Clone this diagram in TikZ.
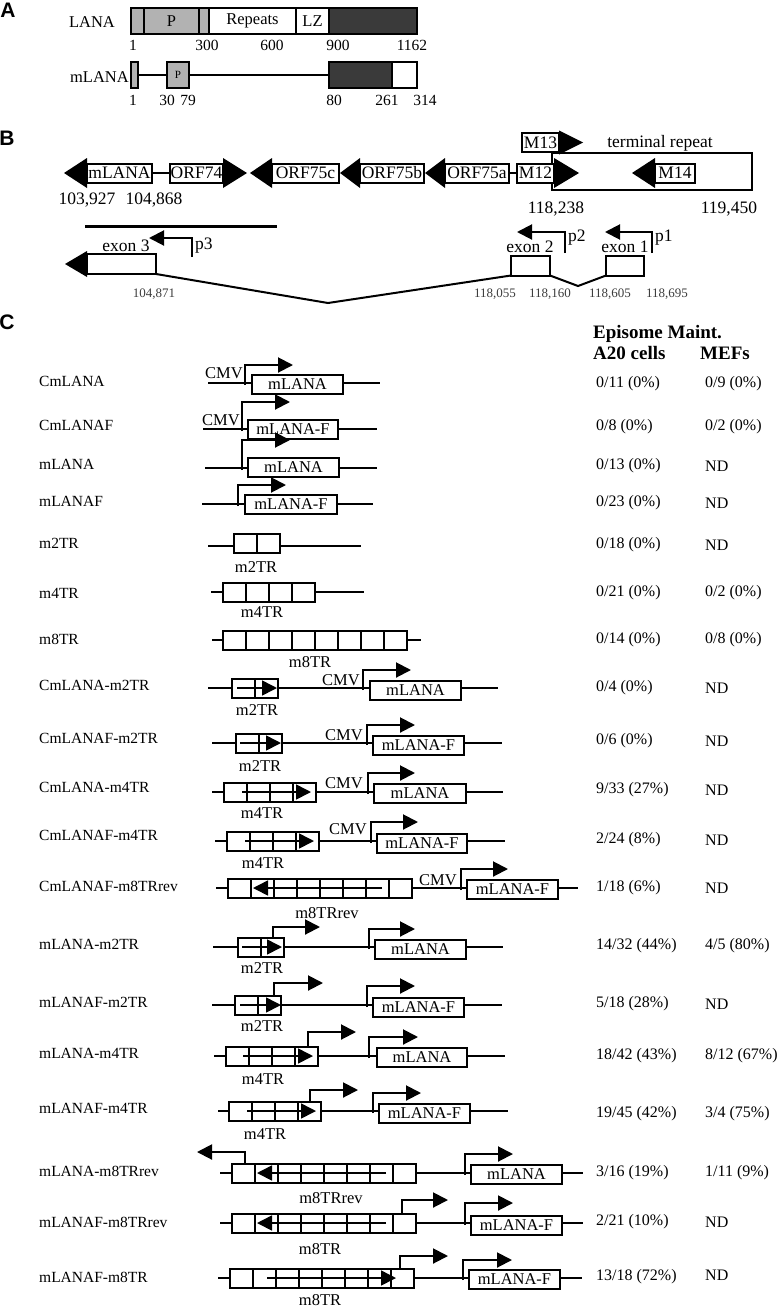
\documentclass[tikz,border=0pt]{standalone}
\usepackage{fontspec}
\setmainfont{Liberation Serif}
\newfontfamily\panelfont{Liberation Sans}
\usetikzlibrary{arrows.meta,calc}

\definecolor{lanagray}{RGB}{178,178,178}
\definecolor{lanadark}{RGB}{58,58,58}
\definecolor{smallgray}{RGB}{60,60,60}

\newcommand*{\fs}[1]{\fontsize{#1}{#1}\selectfont}
% filled gene heads (node, length, half height)
\newcommand*{\headR}[3]{\fill ($(#1.east)+(0,-#3)$) -- ($(#1.east)+(#2,0)$) -- ($(#1.east)+(0,#3)$) -- cycle;}
\newcommand*{\headL}[3]{\fill ($(#1.west)+(0,-#3)$) -- ($(#1.west)+(-#2,0)$) -- ($(#1.west)+(0,#3)$) -- cycle;}
% terminal repeat units (name, left x, y, units)
\newcommand*{\TRbox}[4]{%
  \node[trbox, minimum width=#4*23pt] (#1) at (#2,#3) {};
  \pgfmathtruncatemacro{\ndiv}{#4-1}
  \foreach \k in {1,...,\ndiv}
    \draw[dna] ($(#1.south west)+(23*\k,0)$) -- ($(#1.north west)+(23*\k,0)$);
}

\tikzset{
  panellabel/.style={font=\panelfont\bfseries\fs{21}, inner sep=0pt},
  dna/.style={line width=2pt},
  segbox/.style={draw, line width=2pt, minimum height=26pt, inner sep=0pt, outer sep=0pt, anchor=west, font=\fs{16.5}},
  genebox/.style={draw, line width=2pt, fill=white, minimum height=19pt, inner sep=0pt, outer sep=0pt, anchor=west, font=\fs{16.5}},
  orfbox/.style={genebox, font=\fs{17.5}},
  trbox/.style={draw, line width=2pt, fill=white, minimum height=19pt, inner sep=0pt, outer sep=0pt, anchor=west},
  prom/.style={line width=2pt, -{Triangle[length=15pt,width=15pt]}},
  trarrow/.style={line width=1.6pt, -{Triangle[length=15pt,width=15pt]}},
  numlab/.style={font=\fs{15.5}, inner sep=0pt},
  blab/.style={font=\fs{17.5}, inner sep=0pt},
  smallnum/.style={font=\fs{13}, text=smallgray, inner sep=0pt},
  rowlabel/.style={font=\fs{15.5}, anchor=west, inner sep=0pt},
  cmv/.style={font=\fs{16.5}, anchor=east, inner sep=0pt},
  trlabel/.style={font=\fs{16.5}, inner sep=0pt},
  valcell/.style={font=\fs{16}, anchor=west, inner sep=0pt},
  colhead/.style={font=\bfseries\fs{19}, anchor=west, inner sep=0pt},
}

\begin{document}
\begin{tikzpicture}[x=1pt,y=-1pt]
\useasboundingbox (0,0) rectangle (782,1309);

%%%%% A
\node[panellabel] (pA) at (8,10) {A};
% LANA
\node[numlab, font=\fs{16.5}] (lana) at (92,22) {LANA};
\node[segbox, fill=lanagray, minimum width=13pt] (la1) at (131,21) {};
\node[segbox, fill=lanagray, minimum width=55pt] (laP) at (144,21) {P};
\node[segbox, fill=lanagray, minimum width=10pt] (la2) at (199,21) {};
\node[segbox, fill=white, minimum width=87pt] (laRep) at (209,21) {Repeats};
\node[segbox, fill=white, minimum width=33pt] (laLZ) at (296,21) {LZ};
\node[segbox, fill=lanadark, minimum width=88pt] (laC) at (329,21) {};
\node[numlab] (n1) at (133,45) {1};
\node[numlab] (n300) at (207,45) {300};
\node[numlab] (n600) at (272,45) {600};
\node[numlab] (n900) at (338,45) {900};
\node[numlab] (n1162) at (412,45) {1162};
% mLANA
\node[numlab, font=\fs{16.5}, anchor=east] (mlana) at (129,77) {mLANA};
\node[segbox, fill=lanagray, minimum width=7pt] (ml1) at (131,75) {};
\node[segbox, fill=lanagray, minimum width=22pt, font=\fs{11}] (mlP) at (167,75) {P};
\node[segbox, fill=lanadark, minimum width=63pt] (mlC) at (329,75) {};
\node[segbox, fill=white, minimum width=25pt] (mlW) at (392,75) {};
\draw[dna] (ml1.east) -- (mlP.west);
\draw[dna] (mlP.east) -- (mlC.west);
\node[numlab] (m1) at (133,100) {1};
\node[numlab] (m30) at (167,100) {30};
\node[numlab] (m79) at (188,100) {79};
\node[numlab] (m80) at (334,100) {80};
\node[numlab] (m261) at (387,100) {261};
\node[numlab] (m314) at (425,100) {314};

%%%%% B
\node[panellabel] (pB) at (7,138) {B};
% terminal repeat
\draw[dna] (552,153) rectangle (752,190);
\node[blab] (trtext) at (660,143) {terminal repeat};
% genes
\node[orfbox, minimum width=65pt] (bm) at (87,173) {mLANA};
\node[orfbox, minimum width=53pt] (b74) at (170,173) {ORF74};
\node[orfbox, minimum width=67pt] (b75c) at (272,173) {ORF75c};
\node[orfbox, minimum width=64pt] (b75b) at (360,173) {ORF75b};
\node[orfbox, minimum width=64pt] (b75a) at (445,173) {ORF75a};
\node[orfbox, minimum width=37pt] (b12) at (517,173) {M12};
\node[orfbox, minimum width=37pt] (b13) at (522,142.5) {M13};
\node[orfbox, minimum width=40pt] (b14) at (655,173) {M14};
\draw[dna] (bm.east) -- (b74.west);
\draw[dna] (b75a.east) -- (b12.west);
\headL{bm}{23}{15}
\headR{b74}{24}{15}
\headL{b75c}{22}{15}
\headL{b75b}{20}{15}
\headL{b75a}{20}{15}
\headR{b12}{25}{15}
\headR{b13}{24}{12}
\headL{b14}{23}{15}
\node[blab] (c103) at (87,200) {103,927};
\node[blab] (c104) at (154,200) {104,868};
\node[blab] (c118) at (556,209) {118,238};
\node[blab] (c119) at (729,209) {119,450};
% transcript
\draw[line width=3pt] (85,226) -- (277,226);
\node[orfbox, minimum width=69pt, minimum height=20pt] (ex3) at (87,264) {};
\node[orfbox, minimum width=39pt, minimum height=20pt] (ex2) at (511,265.5) {};
\node[orfbox, minimum width=38pt, minimum height=20pt] (ex1) at (606,265.5) {};
\headL{ex3}{22}{13}
\draw[dna] (ex3.south east) -- (328,303) -- (ex2.south west);
\draw[dna] (ex2.south east) -- (578,286) -- (ex1.south west);
\node[blab] (t3) at (126,246) {exon 3};
\node[blab] (t2) at (530,247) {exon 2};
\node[blab] (t1) at (625,247) {exon 1};
\draw[prom] (192,257) |- (149,238);
\draw[prom] (565,253) |- (517,232);
\draw[prom] (652,253) |- (605,232);
\node[blab, anchor=west] (p3) at (195,246) {p3};
\node[blab, anchor=west] (p2) at (568,238) {p2};
\node[blab, anchor=west] (p1) at (655,238) {p1};
\node[smallnum] (s104871) at (154,294) {104,871};
\node[smallnum] (s118055) at (495,294) {118,055};
\node[smallnum] (s118160) at (550,294) {118,160};
\node[smallnum] (s118605) at (610,294) {118,605};
\node[smallnum] (s118695) at (667,294) {118,695};

%%%%% C
\node[panellabel] (pC) at (7,322) {C};
\node[colhead] (hEp) at (593,334) {Episome Maint.};
\node[colhead] (hA20) at (593,353) {A20 cells};
\node[colhead] (hMEF) at (700,353) {MEFs};

% CmLANA
\node[rowlabel] (r1) at (39,381) {CmLANA};
\draw[dna] (208,383) -- (380,383);
\node[genebox, minimum width=91pt] (g1) at (252,384) {mLANA};
\draw[prom] (245,385) |- (293,365);
\node[cmv] (cmv1) at (243,373) {CMV};
\node[valcell] (a1) at (596,384) {0/11 (0\%)};
\node[valcell] (f1) at (705,384) {0/9 (0\%)};

% CmLANAF
\node[rowlabel] (r2) at (39,425) {CmLANAF};
\draw[dna] (203,429) -- (377,429);
\node[genebox, minimum width=90pt] (g2) at (248,429.5) {mLANA-F};
\draw[prom] (242,431) |- (290,402);
\node[cmv] (cmv2) at (240,420) {CMV};
\node[valcell] (a2) at (596,427) {0/8 (0\%)};
\node[valcell] (f2) at (705,427) {0/2 (0\%)};

% mLANA
\node[rowlabel] (r3) at (39,464) {mLANA};
\draw[dna] (205,468) -- (377,468);
\node[genebox, minimum width=91pt] (g3) at (248,467.5) {mLANA};
\draw[prom] (242,470) |- (290,440);
\node[valcell] (a3) at (596,466) {0/13 (0\%)};
\node[valcell] (f3) at (705,466) {ND};

% mLANAF
\node[rowlabel] (r4) at (39,501) {mLANAF};
\draw[dna] (202,504) -- (373,504);
\node[genebox, minimum width=92pt] (g4) at (245,504) {mLANA-F};
\draw[prom] (238,506) |- (286,485);
\node[valcell] (a4) at (596,503) {0/23 (0\%)};
\node[valcell] (f4) at (705,503) {ND};

% m2TR
\node[rowlabel] (r5) at (39,543) {m2TR};
\draw[dna] (208,546) -- (361,546);
\TRbox{tr5}{234}{543.5}{2}
\node[trlabel] (tl5) at (256,567) {m2TR};
\node[valcell] (a5) at (596,545) {0/18 (0\%)};
\node[valcell] (f5) at (705,545) {ND};

% m4TR
\node[rowlabel] (r6) at (39,593) {m4TR};
\draw[dna] (211,592) -- (364,592);
\TRbox{tr6}{223}{592.5}{4}
\node[trlabel] (tl6) at (262,612) {m4TR};
\node[valcell] (a6) at (596,593) {0/21 (0\%)};
\node[valcell] (f6) at (705,593) {0/2 (0\%)};

% m8TR
\node[rowlabel] (r7) at (39,639) {m8TR};
\draw[dna] (212,640) -- (421,640);
\TRbox{tr7}{223}{640.5}{8}
\node[trlabel] (tl7) at (310,662) {m8TR};
\node[valcell] (a7) at (596,640) {0/14 (0\%)};
\node[valcell] (f7) at (705,640) {0/8 (0\%)};

% CmLANA-m2TR
\node[rowlabel] (r8) at (39,685) {CmLANA-m2TR};
\draw[dna] (208,688) -- (498,688);
\TRbox{tr8}{232}{688.5}{2}
\draw[trarrow] (237,688) -- (277,688);
\node[trlabel] (tl8) at (257,710) {m2TR};
\node[genebox, minimum width=91pt] (g8) at (370,690) {mLANA};
\draw[prom] (363,690) |- (411,670);
\node[cmv] (cmv8) at (360,680) {CMV};
\node[valcell] (a8) at (596,688) {0/4 (0\%)};
\node[valcell] (f8) at (705,688) {ND};

% CmLANAF-m2TR
\node[rowlabel] (r9) at (39,738) {CmLANAF-m2TR};
\draw[dna] (212,743) -- (502,743);
\TRbox{tr9}{236}{743.5}{2}
\draw[trarrow] (240,743) -- (281,743);
\node[trlabel] (tl9) at (260,766) {m2TR};
\node[genebox, minimum width=91pt] (g9) at (373,745) {mLANA-F};
\draw[prom] (367,745) |- (415,725);
\node[cmv] (cmv9) at (363,735) {CMV};
\node[valcell] (a9) at (596,741) {0/6 (0\%)};
\node[valcell] (f9) at (705,741) {ND};

% CmLANA-m4TR
\node[rowlabel] (r10) at (39,787) {CmLANA-m4TR};
\draw[dna] (212,792) -- (503,792);
\TRbox{tr10}{224}{792}{4}
\draw[trarrow] (242,792) -- (311,792);
\node[trlabel] (tl10) at (262,813) {m4TR};
\node[genebox, minimum width=92pt] (g10) at (374,793) {mLANA};
\draw[prom] (368,794) |- (415,773);
\node[cmv] (cmv10) at (363,783) {CMV};
\node[valcell] (a10) at (596,790) {9/33 (27\%)};
\node[valcell] (f10) at (705,790) {ND};

% CmLANAF-m4TR
\node[rowlabel] (r11) at (39,835) {CmLANAF-m4TR};
\draw[dna] (215,841) -- (505,841);
\TRbox{tr11}{227}{841.5}{4}
\draw[trarrow] (245,841) -- (314,841);
\node[trlabel] (tl11) at (263,863) {m4TR};
\node[genebox, minimum width=90pt] (g11) at (377,843.5) {mLANA-F};
\draw[prom] (371,843) |- (418,822);
\node[cmv] (cmv11) at (367,829) {CMV};
\node[valcell] (a11) at (596,840) {2/24 (8\%)};
\node[valcell] (f11) at (705,840) {ND};

% CmLANAF-m8TRrev
\node[rowlabel] (r12) at (39,886) {CmLANAF-m8TRrev};
\draw[dna] (216,888) -- (578,888);
\TRbox{tr12}{228}{888.5}{8}
\draw[trarrow] (382,888) -- (253,888);
\node[trlabel] (tl12) at (327,913) {m8TRrev};
\node[genebox, minimum width=91pt] (g12) at (467,889.5) {mLANA-F};
\draw[prom] (461,890) |- (508,869);
\node[cmv] (cmv12) at (457,880) {CMV};
\node[valcell] (a12) at (596,888) {1/18 (6\%)};
\node[valcell] (f12) at (705,888) {ND};

% mLANA-m2TR
\node[rowlabel] (r13) at (39,944) {mLANA-m2TR};
\draw[dna] (213,947) -- (503,947);
\TRbox{tr13}{238}{947.5}{2}
\draw[trarrow] (242,947) -- (282,947);
\draw[prom] (273,938) |- (320,927);
\node[trlabel] (tl13) at (262,968) {m2TR};
\node[genebox, minimum width=91pt] (g13) at (375,949.5) {mLANA};
\draw[prom] (369,949) |- (415,929);
\node[valcell] (a13) at (596,946) {14/32 (44\%)};
\node[valcell] (f13) at (705,946) {4/5 (80\%)};

% mLANAF-m2TR
\node[rowlabel] (r14) at (39,1002) {mLANAF-m2TR};
\draw[dna] (212,1005) -- (502,1005);
\TRbox{tr14}{235}{1005.5}{2}
\draw[trarrow] (240,1005) -- (281,1005);
\draw[prom] (274,996) |- (323,983);
\node[trlabel] (tl14) at (262,1026) {m2TR};
\node[genebox, minimum width=91pt] (g14) at (373,1007.5) {mLANA-F};
\draw[prom] (367,1007) |- (415,986);
\node[valcell] (a14) at (596,1004) {5/18 (28\%)};
\node[valcell] (f14) at (705,1004) {ND};

% mLANA-m4TR
\node[rowlabel] (r15) at (39,1053) {mLANA-m4TR};
\draw[dna] (214,1056) -- (505,1056);
\TRbox{tr15}{226}{1056.5}{4}
\draw[trarrow] (243,1056) -- (313,1056);
\draw[prom] (308,1047) |- (356,1032);
\node[trlabel] (tl15) at (263,1079) {m4TR};
\node[genebox, minimum width=90pt] (g15) at (377,1057.5) {mLANA};
\draw[prom] (369,1058) |- (418,1037);
\node[valcell] (a15) at (596,1056) {18/42 (43\%)};
\node[valcell] (f15) at (705,1056) {8/12 (67\%)};

% mLANAF-m4TR
\node[rowlabel] (r16) at (39,1108) {mLANAF-m4TR};
\draw[dna] (218,1111) -- (508,1111);
\TRbox{tr16}{229}{1111.5}{4}
\draw[trarrow] (247,1111) -- (316,1111);
\draw[prom] (310,1102) |- (358,1090);
\node[trlabel] (tl16) at (265,1134) {m4TR};
\node[genebox, minimum width=91pt] (g16) at (379,1113.5) {mLANA-F};
\draw[prom] (373,1113) |- (421,1093);
\node[valcell] (a16) at (596,1114) {19/45 (42\%)};
\node[valcell] (f16) at (705,1114) {3/4 (75\%)};

% mLANA-m8TRrev
\node[rowlabel] (r17) at (39,1171) {mLANA-m8TRrev};
\draw[dna] (220,1173) -- (583,1173);
\TRbox{tr17}{232}{1173}{8}
\draw[trarrow] (386,1173) -- (257,1173);
\draw[prom] (245,1163) |- (197,1152);
\node[trlabel] (tl17) at (331,1198) {m8TRrev};
\node[genebox, minimum width=91pt] (g17) at (471,1174.5) {mLANA};
\draw[prom] (465,1175) |- (513,1154);
\node[valcell] (a17) at (596,1173) {3/16 (19\%)};
\node[valcell] (f17) at (705,1173) {1/11 (9\%)};

% mLANAF-m8TRrev
\node[rowlabel] (r18) at (39,1222) {mLANAF-m8TRrev};
\draw[dna] (220,1223) -- (583,1223);
\TRbox{tr18}{232}{1223.5}{8}
\draw[trarrow] (386,1223) -- (257,1223);
\draw[prom] (402,1214) |- (448,1200);
\node[trlabel] (tl18) at (320,1249) {m8TR};
\node[genebox, minimum width=91pt] (g18) at (471,1225) {mLANA-F};
\draw[prom] (465,1225) |- (513,1203);
\node[valcell] (a18) at (596,1222) {2/21 (10\%)};
\node[valcell] (f18) at (705,1222) {ND};

% mLANAF-m8TR
\node[rowlabel] (r19) at (39,1277) {mLANAF-m8TR};
\draw[dna] (218,1278) -- (582,1278);
\TRbox{tr19}{230}{1278.5}{8}
\draw[trarrow] (267,1278) -- (396,1278);
\draw[prom] (400,1269) |- (448,1256);
\node[trlabel] (tl19) at (320,1300) {m8TR};
\node[genebox, minimum width=91pt] (g19) at (469,1279.5) {mLANA-F};
\draw[prom] (463,1280) |- (512,1260);
\node[valcell] (a19) at (596,1277) {13/18 (72\%)};
\node[valcell] (f19) at (705,1275) {ND};

\end{tikzpicture}
\end{document}
